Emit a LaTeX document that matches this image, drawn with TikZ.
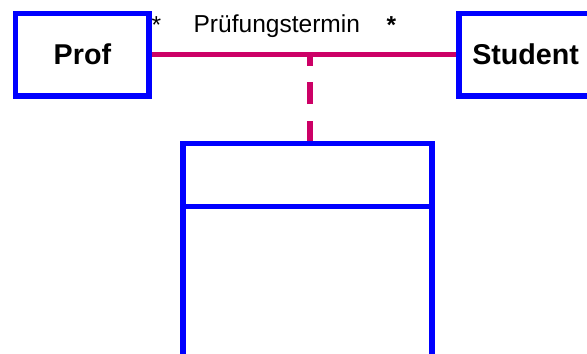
\documentclass[tikz,border=0pt]{standalone}
\usepackage{fontspec}
\setmainfont{Liberation Sans}
\usepackage{xcolor}
\usepackage{tikz}
\usetikzlibrary{positioning}
\definecolor{umlblue}{RGB}{0,0,255}
\definecolor{assocred}{RGB}{204,0,102}

\begin{document}
\begin{tikzpicture}[x=0.75pt,y=-0.75pt,
box/.style={draw=umlblue,line width=4pt,minimum width=99.9pt,minimum height=62pt,inner sep=0pt,font=\fontsize{21.5}{24}\selectfont\bfseries},
assoc/.style={draw=assocred,line width=3.75pt},
lbl/.style={inner sep=0pt,anchor=base,font=\fontsize{18.4}{22}\selectfont}]
\useasboundingbox (0,0) rectangle (587,354);
\clip (0,0) rectangle (587,354);
\node[box] (prof) at (82.4,54.6) {Prof};
\node[box,right=228.5pt of prof] (student) {Student};
\node[box,minimum width=186.75pt,minimum height=47.5pt] (termin) at (307.5,175) {};
\node[box,minimum width=186.75pt,minimum height=200pt,below=-4pt of termin] (body) {};
\draw[assoc] (prof.east) -- (student.west);
\coordinate (mid) at (310,54.6);
\draw[assoc,line width=4pt,dash pattern=on 16.3pt off 12.5pt,dash phase=1.3pt] (termin.north -| mid) -- (mid);
\node[lbl] (rolle) at (276.8,32) {Prüfungstermin};
\node[lbl] (multprof) at (156.5,33) {*};
\node[lbl,font=\fontsize{18.4}{22}\selectfont\bfseries] (multstud) at (391.5,33) {*};
\end{tikzpicture}
\end{document}
